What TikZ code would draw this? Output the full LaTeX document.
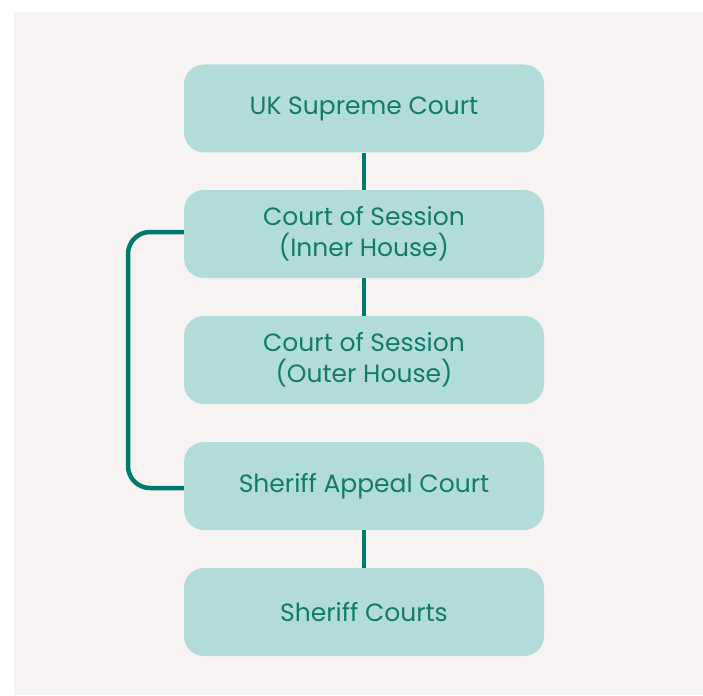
\documentclass[tikz,border=0pt]{standalone}
\usepackage{fontspec}
\setmainfont{Poppins}
\definecolor{bgc}{HTML}{F7F3F2}
\definecolor{boxc}{HTML}{B2DCD9}
\definecolor{txtc}{HTML}{137A6D}
\definecolor{linec}{HTML}{007A6C}
\begin{document}
\begin{tikzpicture}[x=1pt,y=-1pt,
  court/.style={fill=boxc, rounded corners=20pt, minimum width=360pt, minimum height=88pt,
    text=txtc, font=\fontsize{25}{30.5}\selectfont, align=center, inner sep=0pt},
  link/.style={draw=linec, line width=4.5pt}]
\useasboundingbox (0,0) rectangle (703,695);
\fill[white] (0,0) rectangle (703,695);
\fill[bgc] (14,12) rectangle (703,695);
\node[court] (sc) at (364,108.5) {UK Supreme Court};
\node[court] (ih) at (364,234) {Court of Session\\(Inner House)};
\node[court] (oh) at (364,360) {Court of Session\\(Outer House)};
\node[court] (sac) at (364,486) {Sheriff Appeal Court};
\node[court] (shc) at (364,612) {Sheriff Courts};
\coordinate (lt) at (128,232);
\coordinate (lb) at (128,488);
\draw[link] (sc.south) -- (ih.north);
\draw[link] (ih.south) -- (oh.north);
\draw[link] (sac.south) -- (shc.north);
\draw[link, rounded corners=22pt] (ih.west |- lt) -- (lt) -- (lb) -- (sac.west |- lb);
\end{tikzpicture}
\end{document}
